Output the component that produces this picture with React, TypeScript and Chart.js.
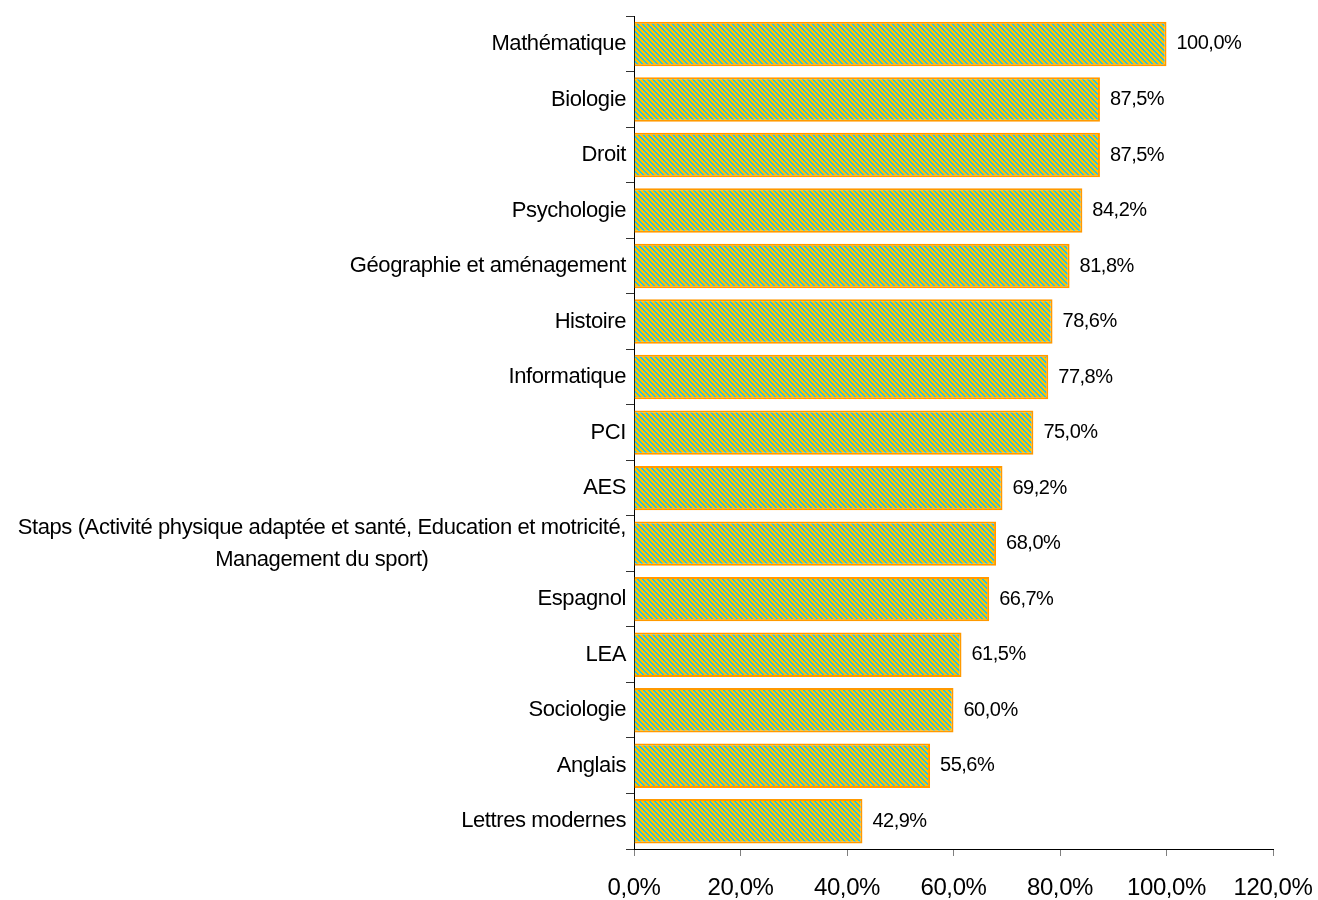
import React, { useEffect, useRef } from "react";
import { Chart, registerables } from "chart.js";

Chart.register(...registerables);

const categories: (string | string[])[] = [
  "Mathématique",
  "Biologie",
  "Droit",
  "Psychologie",
  "Géographie et aménagement",
  "Histoire",
  "Informatique",
  "PCI",
  "AES",
  ["Staps (Activité physique adaptée et santé, Education et motricité,", "Management du sport)"],
  "Espagnol",
  "LEA",
  "Sociologie",
  "Anglais",
  "Lettres modernes",
];

const values: number[] = [100.0, 87.5, 87.5, 84.2, 81.8, 78.6, 77.8, 75.0, 69.2, 68.0, 66.7, 61.5, 60.0, 55.6, 42.9];

const xTicks: number[] = [0, 20, 40, 60, 80, 100, 120];

const FONT = "'Liberation Sans', Arial, sans-serif";
const fmt = (v: number) => v.toFixed(1).replace(".", ",") + "%";

function makePattern(): CanvasPattern | string {
  const N = 5;
  const c = document.createElement("canvas");
  c.width = N;
  c.height = N;
  const g = c.getContext("2d");
  if (!g) return "#99cc80";
  for (let y = 0; y < N; y++) {
    for (let x = 0; x < N; x++) {
      const k = (((x - y) % N) + N) % N;
      g.fillStyle = k < 3 ? "#FFC400" : "#22BEEA";
      g.fillRect(x, y, 1, 1);
    }
  }
  const p = g.createPattern(c, "repeat");
  return p || "#99cc80";
}

const spacingPlugin = {
  id: "spacing",
  beforeUpdate(chart: any) {
    chart.ctx.letterSpacing = "-0.4px";
  },
  beforeDraw(chart: any) {
    chart.ctx.letterSpacing = "-0.4px";
  },
};

const labelsPlugin = {
  id: "customLabels",
  afterDraw(chart: any) {
    const ctx = chart.ctx;
    const yScale = chart.scales.y;
    const xScale = chart.scales.x;
    ctx.save();
    ctx.letterSpacing = "-0.4px";
    ctx.fillStyle = "#000";
    ctx.textBaseline = "middle";
    ctx.font = `22px ${FONT}`;
    const right = yScale.right - 8;
    categories.forEach((lab, i) => {
      const y = yScale.getPixelForTick(i);
      if (Array.isArray(lab)) {
        const widths = lab.map((l) => ctx.measureText(l).width);
        const maxW = Math.max(...widths);
        const center = right - maxW / 2;
        const lh = 32;
        const top = y - ((lab.length - 1) * lh) / 2;
        ctx.textAlign = "center";
        lab.forEach((l, j) => ctx.fillText(l, center, top + j * lh));
      } else {
        ctx.textAlign = "right";
        ctx.fillText(lab, right, y);
      }
    });
    ctx.font = `20px ${FONT}`;
    ctx.textAlign = "left";
    ctx.letterSpacing = "-0.5px";
    const meta = chart.getDatasetMeta(0);
    meta.data.forEach((bar: any, i: number) => {
      ctx.fillText(fmt(values[i]), xScale.getPixelForValue(values[i]) + 10, bar.y);
    });
    ctx.restore();
  },
};

export default function App() {
  const ref = useRef<HTMLCanvasElement | null>(null);
  useEffect(() => {
    if (!ref.current) return;
    const chart = new Chart(ref.current, {
      type: "bar",
      data: {
        labels: categories as any,
        datasets: [
          {
            data: values,
            backgroundColor: makePattern() as any,
            borderColor: "#FF9900",
            borderWidth: 2,
            barPercentage: 0.8,
            categoryPercentage: 1.0,
          },
        ],
      },
      options: {
        indexAxis: "y",
        animation: false,
        responsive: false,
        maintainAspectRatio: false,
        layout: { padding: { top: 16, right: 45, left: 0, bottom: 0 } },
        plugins: {
          legend: { display: false },
          tooltip: { enabled: false },
        },
        scales: {
          x: {
            min: 0,
            max: 120,
            afterBuildTicks(scale: any) {
              scale.ticks = xTicks.map((v) => ({ value: v }));
            },
            afterFit(scale: any) {
              scale.height = 51;
              scale.paddingLeft = 0;
              scale.paddingRight = 0;
            },
            grid: {
              display: true,
              drawOnChartArea: false,
              drawTicks: true,
              tickLength: 7,
              color: "#808080",
            },
            border: { display: true, color: "#000", width: 1 },
            ticks: {
              color: "#000",
              font: { family: FONT, size: 24 },
              padding: 18,
              maxRotation: 0,
              autoSkip: false,
              callback: (v: any) => fmt(Number(v)),
            },
          },
          y: {
            afterFit(scale: any) {
              scale.width = 634;
            },
            grid: {
              display: true,
              offset: true,
              drawOnChartArea: false,
              drawTicks: true,
              tickLength: 8,
              color: "#333",
            },
            border: { display: true, color: "#000", width: 1 },
            ticks: {
              color: "rgba(0,0,0,0)",
              font: { family: FONT, size: 22 },
              autoSkip: false,
            },
          },
        },
      },
      plugins: [spacingPlugin, labelsPlugin],
    });
    return () => chart.destroy();
  }, []);
  return (
    <div style={{ position: "fixed", left: 0, top: 0, width: 1318, height: 900, background: "#fff" }}>
      <canvas ref={ref} width={1318} height={900} style={{ width: 1318, height: 900, display: "block" }} />
    </div>
  );
}
